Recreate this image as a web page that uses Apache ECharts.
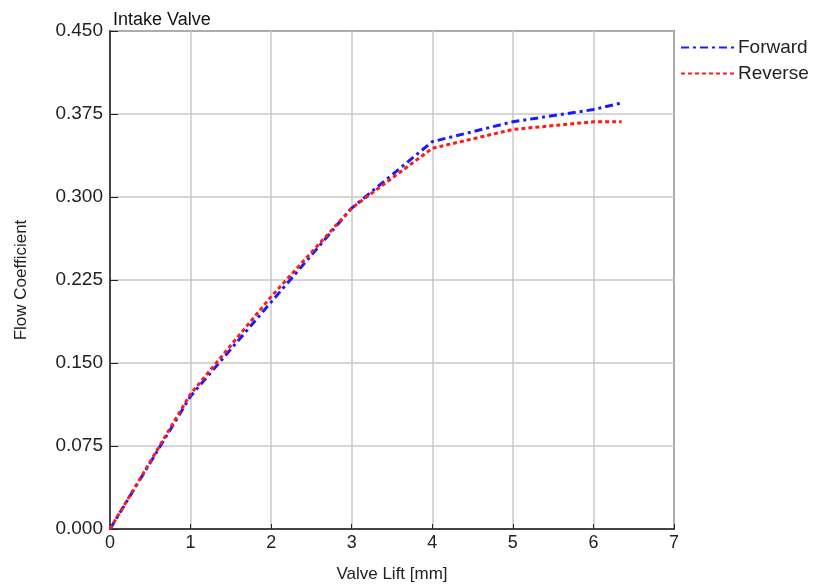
<!DOCTYPE html>
<html><head><meta charset="utf-8">
<script src="https://cdn.jsdelivr.net/npm/echarts@6/dist/echarts.min.js"></script>
<style>html,body{margin:0;padding:0;background:#fff}#c{width:817px;height:588px}</style>
</head><body><div id="c"></div>
<script>
var liftValues = [0, 1, 2, 3, 4, 5, 6, 6.35];
var forwardValues = [0, 0.120, 0.205, 0.290, 0.350, 0.368, 0.379, 0.385];
var reverseValues = [0, 0.122, 0.210, 0.290, 0.344, 0.361, 0.368, 0.368];
var yTicks = [0, 0.075, 0.15, 0.225, 0.3, 0.375, 0.45];

function pairs(xs, ys){ return xs.map(function(x,i){return [x, ys[i]];}); }

var chart = echarts.init(document.getElementById('c'));
var font = 'Liberation Sans, Arial, sans-serif';
chart.setOption({
  animation:false,
  textStyle:{fontFamily:font},
  title:{text:'Intake Valve', left:108, top:6, textStyle:{fontSize:18, fontWeight:'normal', color:'#111', fontFamily:font}},
  legend:{
    orient:'vertical', left:675, top:33, itemWidth:53, itemHeight:10, itemGap:7,
    itemStyle:{opacity:0},
    textStyle:{fontSize:19, color:'#222', fontFamily:font, padding:[0,0,0,-1]},
    data:['Forward','Reverse']
  },
  grid:{left:110, right:143, top:31, bottom:59, show:true, borderColor:'#222', borderWidth:1.5},
  xAxis:{
    type:'value', min:0, max:7, interval:1,
    name:'Valve Lift [mm]', nameLocation:'middle', nameGap:37,
    nameTextStyle:{fontSize:17, color:'#222'},
    axisLine:{show:true, lineStyle:{color:'#222', width:1.5}},
    axisTick:{show:true, inside:true, length:5, lineStyle:{color:'#222'}},
    axisLabel:{fontSize:18, color:'#222', margin:5},
    splitLine:{show:true, lineStyle:{color:'#c8c8c8', width:1.5}}
  },
  yAxis:{
    type:'value', min:0, max:0.45, interval:0.075,
    name:'Flow Coefficient', nameLocation:'middle', nameGap:80, nameRotate:90,
    nameTextStyle:{fontSize:17, color:'#222'},
    axisLine:{show:true, lineStyle:{color:'#222', width:1.5}},
    axisTick:{show:true, inside:true, length:8, lineStyle:{color:'#222'}},
    axisLabel:{fontSize:19, color:'#222', margin:7, formatter:function(v){return v.toFixed(3);}},
    splitLine:{show:true, lineStyle:{color:'#c8c8c8', width:1.5}}
  },
  series:[
    {name:'Forward', type:'line', data:pairs(liftValues, forwardValues), showSymbol:false, symbol:'none',
     itemStyle:{color:'#1a1aff'},
     lineStyle:{color:'#1a1aff', width:3, type:[8,4,3,4]}},
    {name:'Reverse', type:'line', data:pairs(liftValues, reverseValues), showSymbol:false, symbol:'none',
     itemStyle:{color:'#ff1a1a'},
     lineStyle:{color:'#ff1a1a', width:3, type:[4,3]}}
  ]
});
</script></body></html>
